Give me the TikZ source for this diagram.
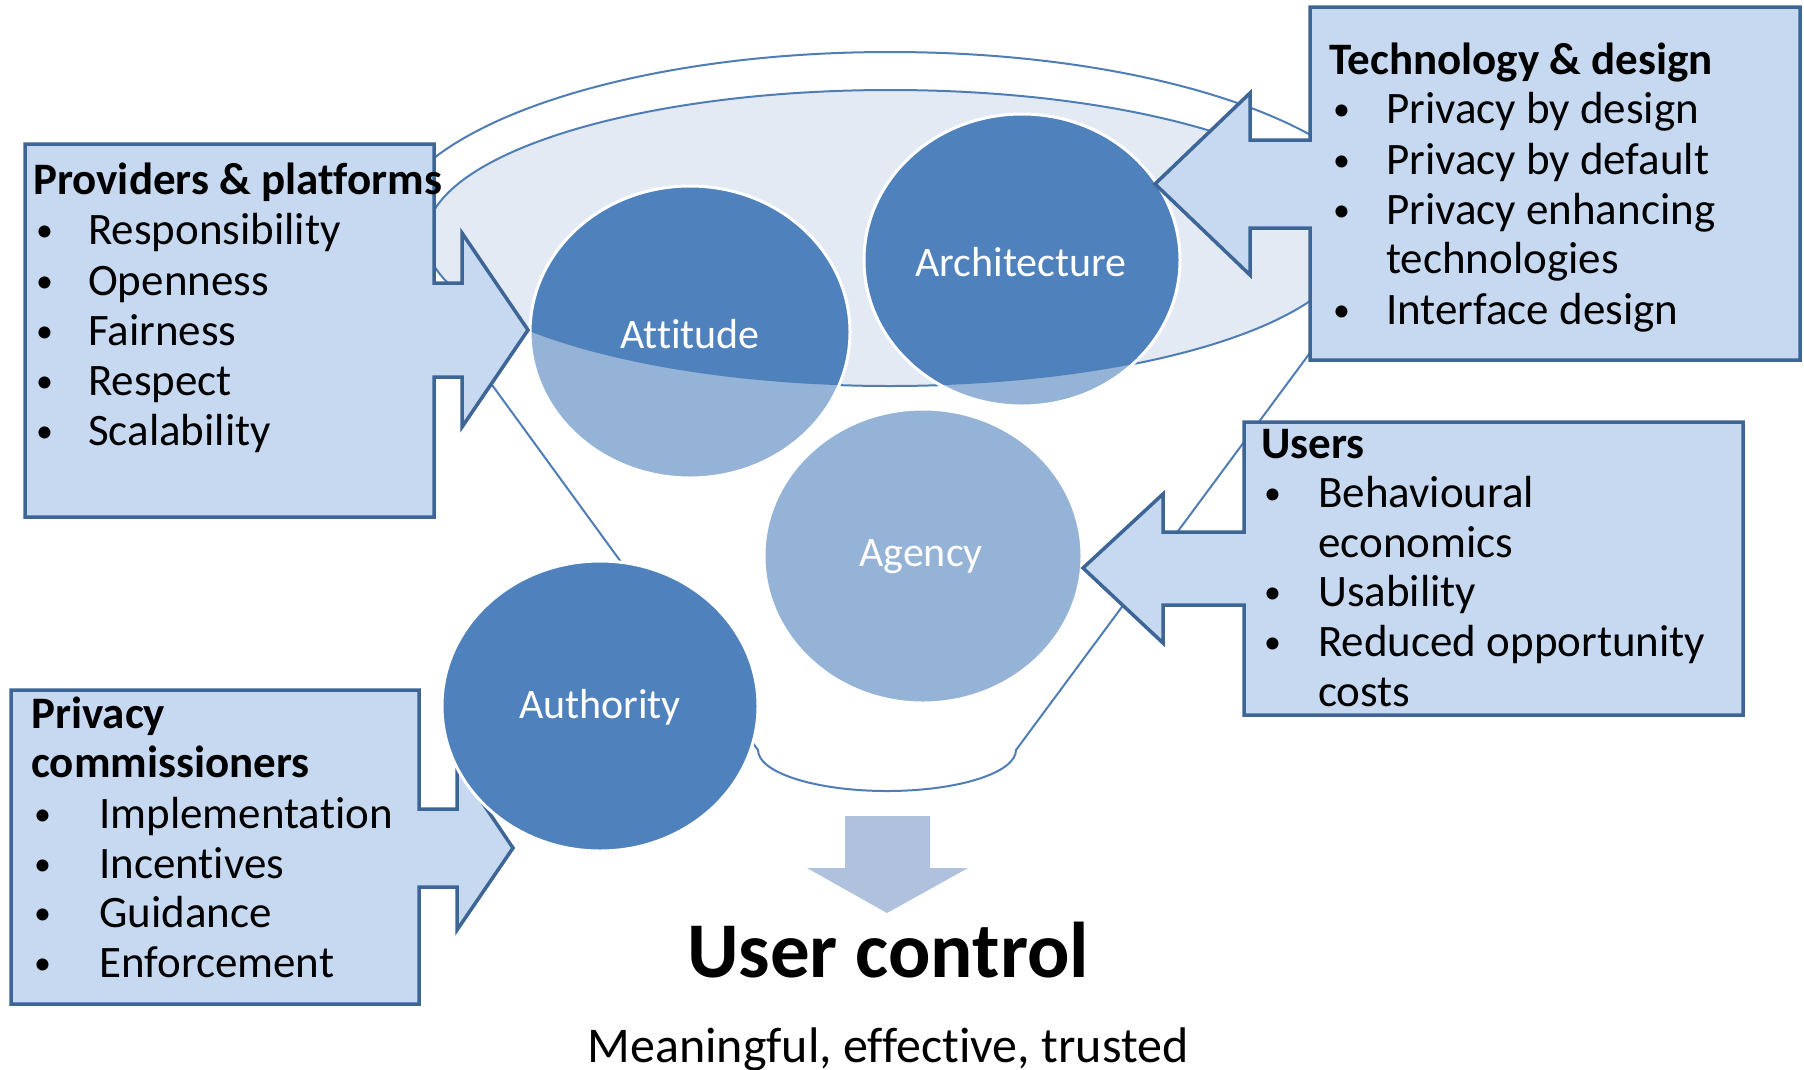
\documentclass[tikz,border=0pt]{standalone}
\usepackage{fontspec}
\setmainfont{Carlito}[Ligatures=NoCommon]
\definecolor{boxfill}{HTML}{C6D9F1}
\definecolor{boxline}{HTML}{3D6595}
\definecolor{cdark}{HTML}{4F81BD}
\definecolor{clight}{HTML}{95B3D7}
\definecolor{rimfill}{HTML}{E4EAF4}
\definecolor{funline}{HTML}{4F7DB6}
\definecolor{downfill}{HTML}{B0C1DD}
\newcommand{\mybul}{\raisebox{3pt}{\fontsize{34}{40}\selectfont •}}
\begin{document}
\begin{tikzpicture}[x=1pt,y=-1pt,
  boxshape/.style={fill=boxfill,draw=boxline,line width=3.5pt,line join=miter},
  funnelline/.style={draw=funline,line width=2pt},
  rimshape/.style={fill=rimfill,draw=funline,line width=2pt},
  circedge/.style={draw=white,line width=3pt},
  boxtxt/.style={anchor=base west,inner sep=0pt,font=\fontsize{45}{50}\selectfont},
  boxhead/.style={anchor=base west,inner sep=0pt,font=\fontsize{45}{50}\selectfont\bfseries},
  circtxt/.style={text=white,inner sep=0pt,font=\fontsize{42}{48}\selectfont},
  bigtxt/.style={anchor=base,inner sep=0pt,font=\fontsize{79}{90}\selectfont\bfseries},
  subtxt/.style={anchor=base,inner sep=0pt,font=\fontsize{50}{58}\selectfont}
]
\useasboundingbox (0,0) rectangle (1804,1069);
\fill[white] (0,0) rectangle (1804,1069);

% funnel outline
\draw[funnelline] (385,238) arc[start angle=180,end angle=360,x radius=505,y radius=186]
  -- (1016,750) arc[start angle=0,end angle=180,x radius=129,y radius=41] -- cycle;
% rim (inner ellipse)
\path[rimshape] (890,238) ellipse[x radius=464,y radius=148];

% circles inside the funnel
\fill[clight] (690,332) ellipse[x radius=160,y radius=146];
\fill[clight] (1022,260) ellipse[x radius=158,y radius=146];
\fill[clight] (923,556) ellipse[x radius=159,y radius=147];
\begin{scope}
  \clip (890,238) ellipse[x radius=464,y radius=148];
  \fill[cdark] (690,332) ellipse[x radius=160,y radius=146];
  \fill[cdark] (1022,260) ellipse[x radius=158,y radius=146];
\end{scope}
\path[circedge] (690,332) ellipse[x radius=160,y radius=146];
\path[circedge] (1022,260) ellipse[x radius=158,y radius=146];
\path[circedge] (923,556) ellipse[x radius=159,y radius=147];
\node[circtxt] (attitude) at (690,334) {Attitude};
\node[circtxt] (architecture) at (1021,262) {Architecture};
\node[circtxt] (agency) at (921,557) {Agency};

% Providers & platforms
\path[boxshape] (25,144) -- (434,144) -- (434,283) -- (462,283) -- (462,233) -- (528,330)
  -- (462,427) -- (462,377) -- (434,377) -- (434,517) -- (25,517) -- cycle;
\node[boxhead] (provT) at (33,194) {Providers \& platforms};
\foreach \yy/\tt [count=\i] in {244/Responsibility,295/Openness,345/Fairness,395/Respect,445/Scalability}{
  \node[boxtxt] (provB\i) at (36,\yy) {\mybul};
  \node[boxtxt] (provI\i) at (88,\yy) {\tt};
}

% Technology & design
\path[boxshape] (1310,7) -- (1800,7) -- (1800,360) -- (1310,360) -- (1310,228) -- (1250,228)
  -- (1250,275) -- (1155,184) -- (1250,93) -- (1250,140) -- (1310,140) -- cycle;
\node[boxhead] (techT) at (1329,74) {Technology \& design};
\node[boxtxt] (techB1) at (1333,123) {\mybul};
\node[boxtxt] (techI1) at (1386,123) {Privacy by design};
\node[boxtxt] (techB2) at (1333,174) {\mybul};
\node[boxtxt] (techI2) at (1386,174) {Privacy by default};
\node[boxtxt] (techB3) at (1333,224) {\mybul};
\node[boxtxt] (techI3) at (1386,224) {Privacy enhancing};
\node[boxtxt] (techI3b) at (1386,273) {technologies};
\node[boxtxt] (techB4) at (1333,324) {\mybul};
\node[boxtxt] (techI4) at (1386,324) {Interface design};

% Users
\path[boxshape] (1244,422) -- (1743,422) -- (1743,715) -- (1244,715) -- (1244,605) -- (1163,605)
  -- (1163,643) -- (1083,568) -- (1163,494) -- (1163,532) -- (1244,532) -- cycle;
\node[boxhead] (userT) at (1261,458) {Users};
\node[boxtxt] (userB1) at (1264,507) {\mybul};
\node[boxtxt] (userI1) at (1318,507) {Behavioural};
\node[boxtxt] (userI1b) at (1318,557) {economics};
\node[boxtxt] (userB2) at (1264,606) {\mybul};
\node[boxtxt] (userI2) at (1318,606) {Usability};
\node[boxtxt] (userB3) at (1264,656) {\mybul};
\node[boxtxt] (userI3) at (1318,656) {Reduced opportunity};
\node[boxtxt] (userI3b) at (1318,706) {costs};

% Privacy commissioners
\path[boxshape] (11,690) -- (419,690) -- (419,809) -- (457,809) -- (457,765) -- (513,848)
  -- (457,930) -- (457,887) -- (419,887) -- (419,1004) -- (11,1004) -- cycle;
\node[boxhead] (privT1) at (31,728) {Privacy};
\node[boxhead] (privT2) at (31,777) {commissioners};
\foreach \yy/\tt [count=\i] in {828/Implementation,878/Incentives,927/Guidance,977/Enforcement}{
  \node[boxtxt] (privB\i) at (34,\yy) {\mybul};
  \node[boxtxt] (privI\i) at (99,\yy) {\tt};
}

% Authority circle (over the arrow)
\fill[cdark] (600,706) ellipse[x radius=158,y radius=145];
\path[circedge] (600,706) ellipse[x radius=158,y radius=145];
\node[circtxt] (authority) at (600,707) {Authority};

% down arrow
\fill[downfill] (845,816) -- (930,816) -- (930,868) -- (968,868) -- (887,913) -- (807,868) -- (845,868) -- cycle;

\node[bigtxt] (uc) at (888,977) {User control};
\node[subtxt] (met) at (888,1062) {Meaningful, effective, trusted};
\end{tikzpicture}
\end{document}
